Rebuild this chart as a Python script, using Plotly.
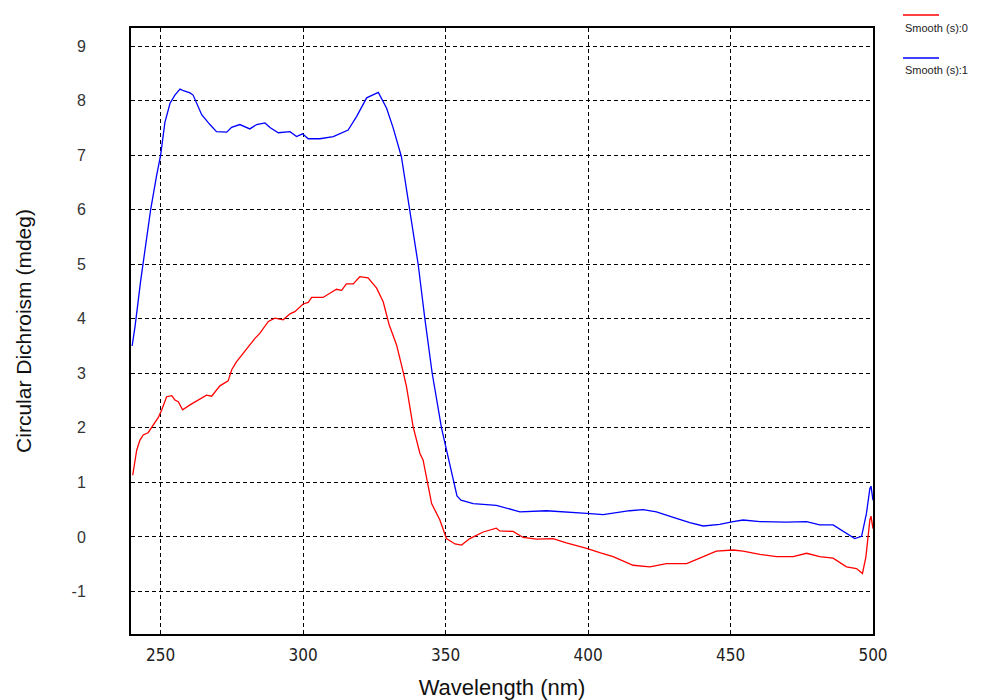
import plotly.graph_objects as go

wavelength_s0 = [240.2, 241.6, 242.7, 243.9, 245.6, 247.4, 249.2, 250.4, 252.1, 253.9, 255, 256.2, 257.7,
                 260.3, 263.8, 266.1, 267.9, 270.8, 273.7, 274.9, 276.6, 280.2, 283.1, 284.8, 287.8, 290.1,
                 293, 295.4, 297.1, 300, 301.8, 303, 307, 311.7, 313.5, 315.2, 317.6, 319.9, 322.8, 325.8,
                 328.1, 330.2, 332.8, 335.1, 336.3, 338.6, 341, 342.1, 343.9, 345.1, 348, 350.3, 353.3,
                 355.6, 358.5, 363.2, 367.8, 369, 373.7, 377.2, 381.9, 387.7, 392.4, 399.5, 404.1, 408.8,
                 415.8, 421.7, 427.5, 434.6, 439.2, 445, 450.9, 454.4, 460.3, 466.1, 472, 476.7, 481.3,
                 486, 490.7, 494.2, 496.3, 497.5, 498.9, 499.3, 500]
cd_s0 = [1.13, 1.59, 1.77, 1.87, 1.91, 2.05, 2.19, 2.33, 2.57, 2.59, 2.51, 2.48, 2.33,
         2.42, 2.52, 2.60, 2.58, 2.77, 2.86, 3.06, 3.21, 3.46, 3.64, 3.73, 3.95, 4.01,
         3.98, 4.09, 4.13, 4.27, 4.30, 4.39, 4.39, 4.54, 4.52, 4.64, 4.64, 4.77, 4.75, 4.56,
         4.31, 3.89, 3.52, 3.03, 2.75, 2.02, 1.53, 1.41, 0.95, 0.61, 0.31, -0.03, -0.13,
         -0.15, -0.03, 0.09, 0.16, 0.11, 0.10, -0.01, -0.04, -0.03, -0.11, -0.21, -0.29, -0.36,
         -0.52, -0.55, -0.49, -0.49, -0.39, -0.26, -0.24, -0.26, -0.32, -0.36, -0.36, -0.30, -0.36,
         -0.39, -0.55, -0.58, -0.67, -0.37, 0.31, 0.38, 0.15]

wavelength_s1 = [240, 241, 243, 245, 246.5, 248.5, 250, 251.5, 253.3, 255, 256.8, 258, 260.3, 261.4,
                 263, 264.4, 267.3, 269.6, 273.2, 274.9, 277.8, 279.5, 281.3, 283.7, 286.6, 288.5,
                 291.3, 295.4, 297.7, 299.8, 301.8, 305.9, 310.6, 315.8, 318.8, 322.3, 326.4, 329.3,
                 331.6, 334.5, 337.5, 340.4, 342.7, 345.3, 348.6, 350.3, 352.7, 354, 355.4, 359.7,
                 367.8, 372, 376.1, 385.4, 392.5, 399.5, 405.3, 410, 414.6, 419.3, 424, 431, 435.7,
                 440.4, 446.2, 450.9, 454.4, 460.3, 469.6, 476.7, 481.3, 486, 489.5, 493.6, 496,
                 497.7, 498.9, 499.3, 500]
cd_s1 = [3.5, 3.85, 4.7, 5.5, 6.0, 6.6, 7.0, 7.6, 7.95, 8.1, 8.21, 8.18, 8.14, 8.1,
         7.9, 7.74, 7.56, 7.43, 7.42, 7.51, 7.56, 7.52, 7.48, 7.56, 7.59, 7.5,
         7.41, 7.43, 7.34, 7.39, 7.30, 7.30, 7.34, 7.46, 7.71, 8.05, 8.15, 7.86,
         7.50, 6.97, 6.0, 4.99, 4.01, 3.0, 1.99, 1.59, 1.01, 0.75, 0.675, 0.61,
         0.58, 0.52, 0.46, 0.48, 0.46, 0.43, 0.41, 0.45, 0.48, 0.50, 0.46, 0.34, 0.26,
         0.20, 0.23, 0.28, 0.31, 0.28, 0.27, 0.28, 0.22, 0.22, 0.11, -0.03, 0.01,
         0.43, 0.89, 0.93, 0.67]

x_ticks = [250, 300, 350, 400, 450, 500]
y_ticks = [-1, 0, 1, 2, 3, 4, 5, 6, 7, 8, 9]
series_names = ["Smooth (s):0", "Smooth (s):1"]
series_colors = ["#ff0000", "#0000ff"]

fig = go.Figure()
fig.add_trace(go.Scatter(x=wavelength_s0, y=cd_s0, mode="lines", name=series_names[0],
                         line=dict(color=series_colors[0], width=1.3), showlegend=False))
fig.add_trace(go.Scatter(x=wavelength_s1, y=cd_s1, mode="lines", name=series_names[1],
                         line=dict(color=series_colors[1], width=1.3), showlegend=False))

grid = dict(showgrid=True, gridcolor="#000000", gridwidth=1, griddash="4px,3px",
            showline=True, linecolor="#000000", linewidth=2, mirror=True,
            zeroline=False, ticks="", automargin=False)

fig.update_xaxes(range=[239.6, 500], tickvals=x_ticks, ticktext=[str(v) for v in x_ticks],
                 tickfont=dict(family="Liberation Sans Narrow, DejaVu Sans Condensed, Liberation Sans", size=17, color="#222"),
                 ticklabelstandoff=5,
                 title=dict(text="Wavelength (nm)", font=dict(family="Liberation Sans, Arial", size=22, color="#111"),
                            standoff=15),
                 **grid)
fig.update_yaxes(range=[-1.78, 9.33], tickvals=y_ticks, ticktext=[str(v) for v in y_ticks],
                 tickfont=dict(family="Liberation Sans, Arial", size=16, color="#333"),
                 ticklabelstandoff=40,
                 title=dict(text="Circular Dichroism (mdeg)", font=dict(family="Liberation Sans, Arial", size=21, color="#111"),
                            standoff=34),
                 **grid)

# custom legend (line above label), in paper coordinates
legend_y_line = [1.0215, 0.9505]
legend_y_text = [1.0, 0.9307]
for i in range(2):
    fig.add_shape(type="line", xref="paper", yref="paper", x0=1.0404, x1=1.089,
                  y0=legend_y_line[i], y1=legend_y_line[i], line=dict(color=series_colors[i], width=1.5))
    fig.add_annotation(xref="paper", yref="paper", x=1.0404, y=legend_y_text[i], xanchor="left",
                       yanchor="middle", text=series_names[i], showarrow=False,
                       font=dict(family="Liberation Sans, Arial", size=11, color="#222"))

fig.update_layout(width=986, height=692, plot_bgcolor="white", paper_bgcolor="white",
                  margin=dict(l=123, r=121, t=20, b=66))

fig.write_html("out.html")
